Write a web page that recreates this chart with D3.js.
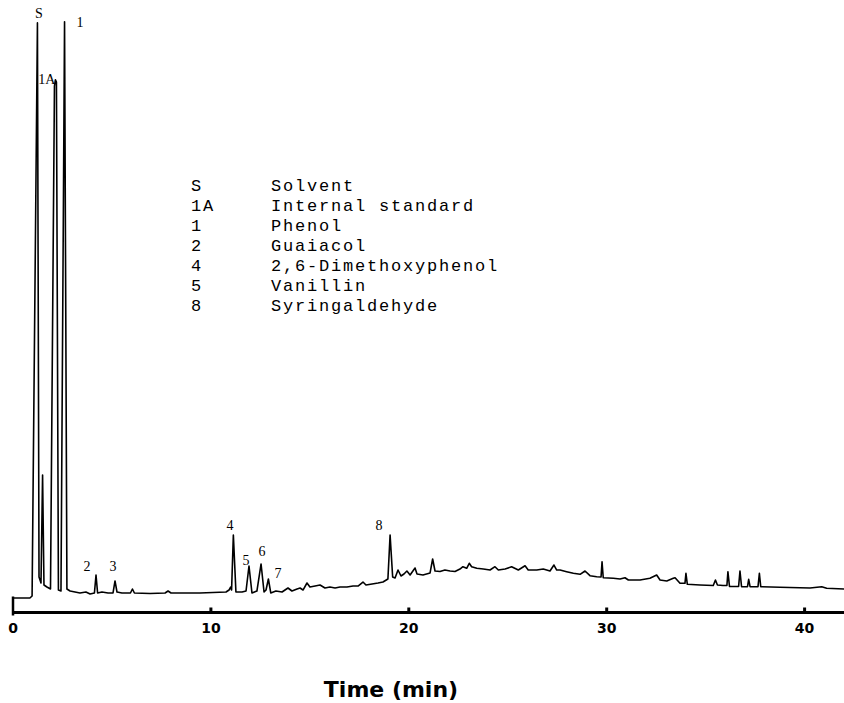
<!DOCTYPE html>
<html>
<head>
<meta charset="utf-8">
<script src="https://cdn.jsdelivr.net/npm/d3@7"></script>
<style>
  body { margin: 0; background: #fff; }
  svg { display: block; }
  text { fill: #000; }
</style>
</head>
<body>
<div id="chart"></div>
<script>
// chromatogram trace, digitized: time (min) and detector response (% of full scale)
var traceTime = [
  0, 0.88, 0.99, 1.26, 1.34, 1.44, 1.52, 1.59, 1.74, 1.92,
  2.12, 2.17, 2.22, 2.32, 2.45, 2.63, 2.75, 2.91, 3.16, 3.41,
  3.71, 3.92, 4.14, 4.22, 4.30, 4.52, 4.83, 5.08, 5.18, 5.28,
  5.53, 5.96, 6.06, 6.16, 6.95, 7.71, 7.86, 8.01, 9.47, 10.79,
  10.94, 11.02, 11.07, 11.16, 11.29, 11.60, 11.80, 11.95, 12.10, 12.35,
  12.56, 12.71, 12.81, 12.93, 13.05, 13.31, 13.62, 13.92, 14.12, 14.38,
  14.53, 14.68, 14.88, 15.03, 15.29, 15.54, 15.79, 16.04, 16.30, 16.55,
  16.90, 17.21, 17.46, 17.71, 17.86, 18.17, 18.47, 18.72, 18.97, 19.08,
  19.21, 19.33, 19.48, 19.63, 19.78, 19.93, 20.09, 20.34, 20.44, 20.74,
  21.10, 21.23, 21.35, 21.60, 21.85, 22.11, 22.36, 22.61, 22.76, 22.95,
  23.08, 23.20, 23.46, 23.79, 24.13, 24.38, 24.55, 24.89, 25.22, 25.56,
  25.90, 26.06, 26.49, 26.82, 27.16, 27.36, 27.50, 27.67, 28.00, 28.34,
  28.68, 28.93, 29.18, 29.52, 29.74, 29.79, 29.85, 30.36, 30.70, 30.95,
  31.12, 31.71, 32.21, 32.55, 32.72, 33.06, 33.39, 33.48, 33.73, 33.98,
  34.03, 34.10, 34.74, 35.41, 35.52, 35.62, 35.90, 36.10, 36.15, 36.23,
  36.69, 36.76, 36.84, 37.14, 37.20, 37.27, 37.67, 37.74, 37.81, 38.78,
  39.79, 40.30, 40.89, 41.14, 42.02
];
var traceSignal = [
  0.34, 0.34, 0.69, 99.5, 3.97, 2.93, 21.55, 2.59, 2.24, 1.90,
  88.6, 89.7, 89.3, 1.72, 1.55, 99.7, 1.90, 1.55, 1.38, 1.21,
  1.38, 1.03, 1.21, 4.31, 1.21, 1.38, 1.21, 1.21, 3.28, 1.38,
  1.21, 1.21, 1.90, 1.21, 1.12, 1.21, 1.55, 1.21, 1.21, 1.38,
  1.72, 2.24, 1.72, 11.2, 1.38, 1.38, 1.55, 5.86, 1.21, 1.55,
  6.21, 1.38, 1.72, 3.62, 1.21, 1.55, 1.38, 2.07, 1.55, 1.90,
  2.07, 1.72, 2.93, 2.24, 2.41, 2.59, 2.07, 2.24, 2.07, 2.24,
  2.24, 2.41, 2.41, 3.10, 2.59, 2.76, 2.93, 3.10, 3.62, 11.2,
  3.97, 3.79, 5.17, 4.14, 4.48, 5.00, 4.31, 5.52, 4.48, 4.31,
  4.66, 7.07, 5.00, 4.91, 5.17, 5.00, 4.91, 5.34, 5.74, 5.47,
  6.33, 5.74, 5.47, 5.34, 5.17, 5.74, 5.17, 5.34, 5.74, 5.17,
  5.91, 5.17, 5.17, 5.34, 5.00, 6.03, 5.17, 5.17, 4.88, 4.60,
  4.43, 5.00, 4.19, 4.02, 3.97, 6.60, 3.84, 3.74, 3.62, 3.84,
  3.45, 3.45, 3.74, 4.31, 3.45, 3.28, 3.74, 3.84, 2.88, 2.88,
  4.60, 2.71, 2.59, 2.50, 3.45, 2.59, 2.50, 2.50, 4.88, 2.33,
  2.33, 5.00, 2.29, 2.29, 3.57, 2.29, 2.29, 4.60, 2.29, 2.19,
  2.12, 2.07, 2.29, 2.02, 1.90
];

// peak labels, placed where they sit on the trace
var peakNames = ["S", "1A", "1", "2", "3", "4", "5", "6", "7", "8"];
var peakLabelTime = [1.34, 1.74, 3.41, 3.76, 5.08, 10.99, 11.80, 12.61, 13.42, 18.52];
var peakLabelSignal = [101.2, 89.8, 99.7, 5.86, 5.86, 12.9, 6.9, 8.45, 4.66, 12.9];

// key
var keyCodes = ["S", "1A", "1", "2", "4", "5", "8"];
var keyNames = ["Solvent", "Internal standard", "Phenol", "Guaiacol",
  "2,6-Dimethoxyphenol", "Vanillin", "Syringaldehyde"];

var timeTicks = [0, 10, 20, 30, 40];
var timeEnd = 42.02;

var width = 844,
  height = 703;

var svg = d3.select("#chart")
  .append("svg")
  .attr("width", width)
  .attr("height", height);

var x = d3.scaleLinear()
  .domain([0, 40])
  .range([12.5, 804.1]);

var y = d3.scaleLinear()
  .domain([0, 100])
  .range([600, 20]);

var axisY = 612.5;

// time axis
var axis = svg.append("g")
  .attr("transform", "translate(0," + axisY + ")")
  .call(d3.axisBottom(x)
    .tickValues(timeTicks)
    .tickSize(-5)
    .tickSizeOuter(0)
    .tickPadding(11)
    .tickFormat(d3.format("d")));

axis.select(".domain").remove();
axis.selectAll(".tick line")
  .attr("stroke", "#000")
  .attr("stroke-width", 3);
axis.selectAll(".tick")
  .filter(function(d) { return d === 0; })
  .select("line")
  .attr("y1", 3)
  .attr("y2", -16)
  .attr("stroke-width", 2.5);
axis.selectAll(".tick text")
  .attr("fill", "#000")
  .style("font-family", "'DejaVu Sans', sans-serif")
  .style("font-weight", "bold")
  .style("font-size", "14px");

axis.append("line")
  .attr("x1", x(0))
  .attr("x2", x(timeEnd))
  .attr("y1", 0)
  .attr("y2", 0)
  .attr("stroke", "#000")
  .attr("stroke-width", 2.8);

svg.append("text")
  .attr("x", 391)
  .attr("y", 697)
  .attr("text-anchor", "middle")
  .style("font-family", "'DejaVu Sans', sans-serif")
  .style("font-weight", "bold")
  .style("font-size", "22px")
  .text("Time (min)");

// trace
var trace = traceTime.map(function(t, i) { return [t, traceSignal[i]]; });

var line = d3.line()
  .x(function(d) { return x(d[0]); })
  .y(function(d) { return y(d[1]); });

svg.append("path")
  .datum(trace)
  .attr("d", line)
  .attr("fill", "none")
  .attr("stroke", "#000")
  .attr("stroke-width", 1.6)
  .attr("stroke-linejoin", "round");

// peak labels
svg.selectAll("text.peak")
  .data(peakNames)
  .enter()
  .append("text")
  .attr("class", "peak")
  .attr("x", function(d, i) { return x(peakLabelTime[i]); })
  .attr("y", function(d, i) { return y(peakLabelSignal[i]); })
  .attr("dy", "0.35em")
  .attr("text-anchor", "middle")
  .attr("fill", "#000")
  .style("font-family", "'Liberation Serif', serif")
  .style("font-size", "14px")
  .text(function(d) { return d; });

// key
var key = svg.append("g")
  .attr("fill", "#000")
  .style("font-family", "'Liberation Mono', monospace")
  .style("font-size", "17px")
  .style("letter-spacing", "1.8px");

keyCodes.forEach(function(code, i) {
  var rowY = 185.5 + i * 20;
  key.append("text")
    .attr("x", 191)
    .attr("y", rowY)
    .attr("dy", "0.35em")
    .text(code);
  key.append("text")
    .attr("x", 271)
    .attr("y", rowY)
    .attr("dy", "0.35em")
    .text(keyNames[i]);
});
</script>
</body>
</html>
